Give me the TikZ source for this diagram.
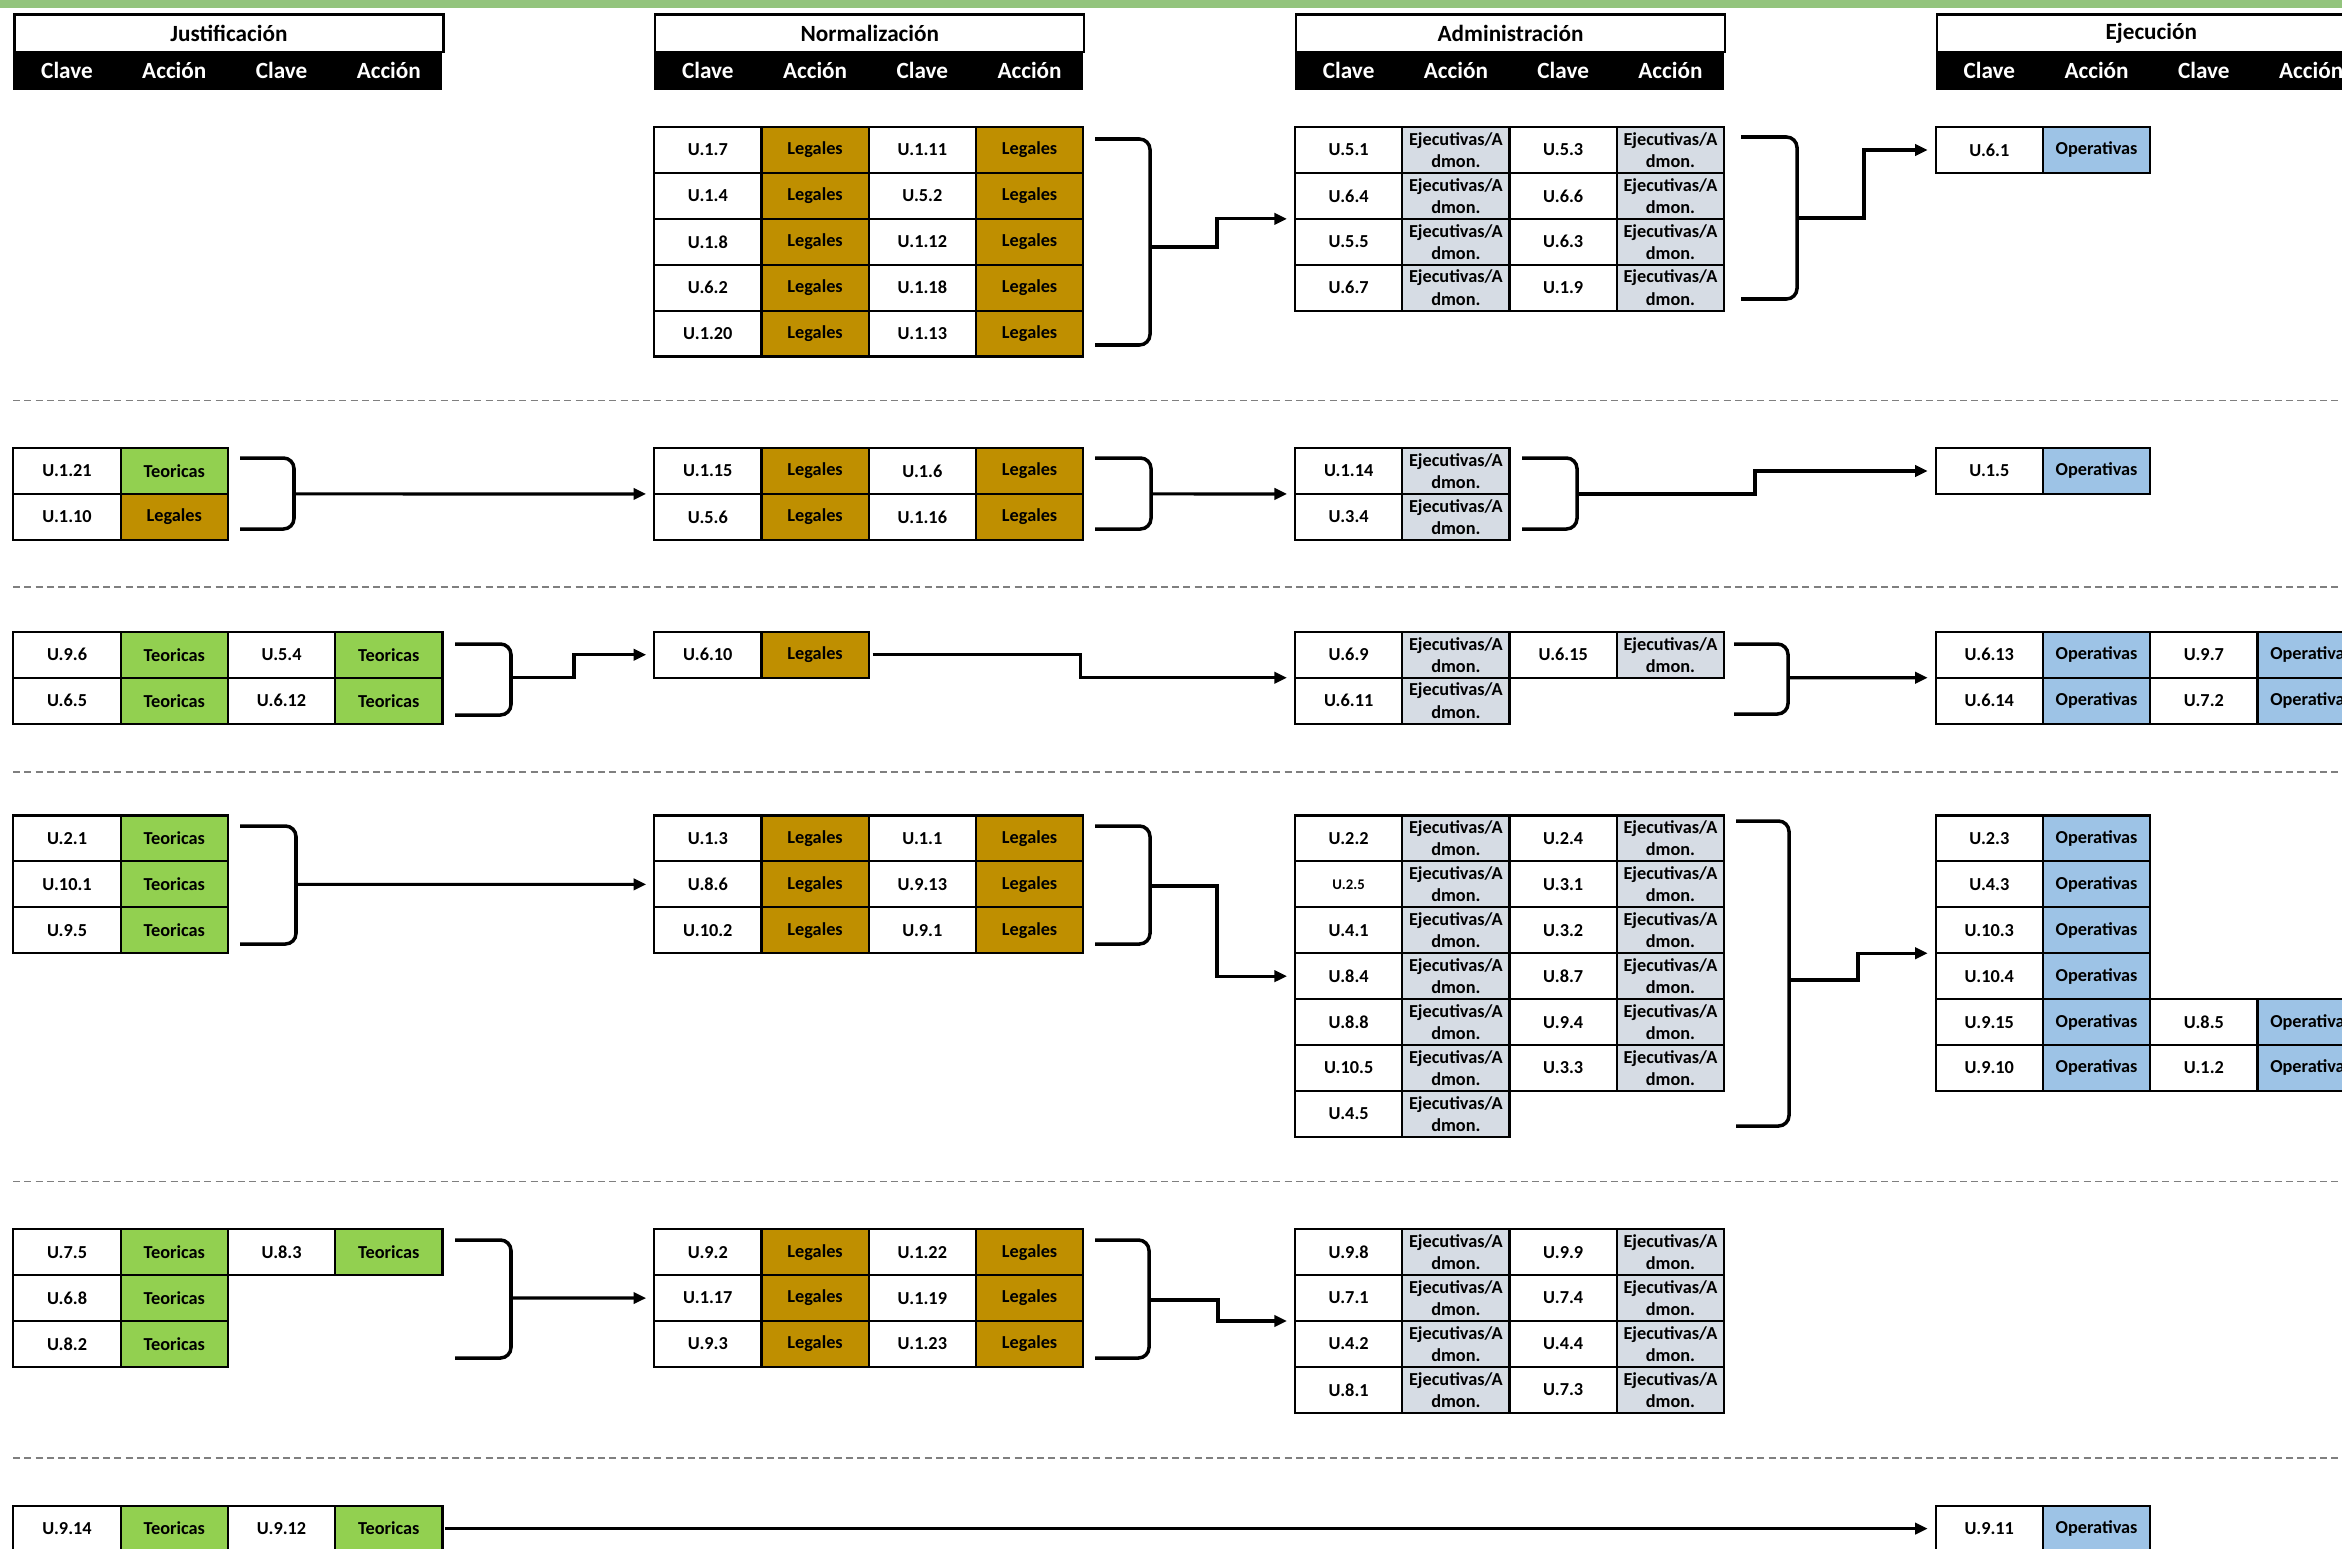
\documentclass[tikz,border=0pt]{standalone}
\usepackage{fontspec}
\setmainfont{Carlito}
\usetikzlibrary{arrows.meta,positioning}

\definecolor{barGreen}{HTML}{93C47D}
\definecolor{teoGreen}{HTML}{92D050}
\definecolor{legGold}{HTML}{BF8F00}
\definecolor{ejcGray}{HTML}{D6DCE4}
\definecolor{opeBlue}{HTML}{9DC3E6}
\definecolor{sepGray}{HTML}{7F7F7F}

\begin{document}
\begin{tikzpicture}[x=0.01cm, y=-0.01cm,
    cell/.style={draw, line width=0.6pt, outer sep=0pt, inner sep=0pt,
      minimum width=1.072cm, minimum height=0.459cm, align=center,
      font=\fontsize{5.2}{6.3}\selectfont\bfseries},
    clave/.style={cell, fill=white},
    teo/.style={cell, fill=teoGreen},
    leg/.style={cell, fill=legGold},
    ejc/.style={cell, fill=ejcGray},
    ope/.style={cell, fill=opeBlue},
    grouptitle/.style={draw, line width=0.6pt, anchor=north west, inner sep=0pt,
      minimum width=4.288cm, minimum height=0.374cm,
      font=\fontsize{6.6}{8}\selectfont\bfseries},
    colhead/.style={fill=black, text=white, inner sep=0pt, outer sep=0pt,
      minimum width=1.072cm, minimum height=0.388cm,
      font=\fontsize{6.6}{8}\selectfont\bfseries},
    brk/.style={line width=1pt, rounded corners=3pt},
    link/.style={line width=0.9pt, shorten >=0.08cm,
      -{Triangle[length=3.6pt, width=3.2pt]}},
    divline/.style={draw=sepGray, line width=0.45pt, dash pattern=on 2pt off 1.2pt}
  ]
  \useasboundingbox (0,0) rectangle (2342,1548);
  \clip (0,0) rectangle (2342,1548);
  \fill[barGreen] (0,0) rectangle (2342,8);

  % cabeceras de las cuatro etapas
  \foreach \gx/\gname/\gid in {13.4/Justificación/j, 654.2/Normalización/n,
      1295/Administración/a, 1935.7/Ejecución/e} {
    \node[grouptitle] (h\gid) at (\gx,13.4) {\gname};
    \node[colhead, anchor=north west] (h\gid-1) at (\gx,50.8) {Clave};
    \node[colhead, right=0pt of h\gid-1] (h\gid-2) {Acción};
    \node[colhead, right=0pt of h\gid-2] (h\gid-3) {Clave};
    \node[colhead, right=0pt of h\gid-3] (h\gid-4) {Acción};
  }

  % separadores
  \foreach \dy in {400.3, 587, 772, 1181.4, 1457.8}
    \draw[divline] (13,\dy) -- (2342,\dy);

  % ---- bloque 1
  \foreach \ka/\kb [count=\r from 0] in {U.1.7/U.1.11, U.1.4/U.5.2,
      U.1.8/U.1.12, U.6.2/U.1.18, U.1.20/U.1.13} {
    \node[clave, anchor=north west] (n1-\r-1) at (654.2,127+45.9*\r) {\ka};
    \node[leg, right=0pt of n1-\r-1] (n1-\r-2) {Legales};
    \node[clave, right=0pt of n1-\r-2] (n1-\r-3) {\kb};
    \node[leg, right=0pt of n1-\r-3] (n1-\r-4) {Legales};
  }
  \foreach \ka/\kb [count=\r from 0] in {U.5.1/U.5.3, U.6.4/U.6.6,
      U.5.5/U.6.3, U.6.7/U.1.9} {
    \node[clave, anchor=north west] (a1-\r-1) at (1295,127+45.9*\r) {\ka};
    \node[ejc, right=0pt of a1-\r-1] (a1-\r-2) {Ejecutivas/A\\dmon.};
    \node[clave, right=0pt of a1-\r-2] (a1-\r-3) {\kb};
    \node[ejc, right=0pt of a1-\r-3] (a1-\r-4) {Ejecutivas/A\\dmon.};
  }
  \node[clave, anchor=north west] (e1-0-1) at (1935.7,127) {U.6.1};
  \node[ope, right=0pt of e1-0-1] (e1-0-2) {Operativas};

  \draw[brk] (1095,139) -- (1150,139) -- (1150,345) -- (1095,345);
  \coordinate (bn1) at (1150,247);
  \draw[link] (bn1) -- ++(67,0) |- (a1-1-1.south west);
  \draw[brk] (1741,137) -- (1797,137) -- (1797,299) -- (1741,299);
  \coordinate (ba1) at (1797,218);
  \draw[link] (ba1) -- ++(67,0) |- (e1-0-1.west);

  % ---- bloque 2
  \node[clave, anchor=north west] (j2-0-1) at (13.4,448) {U.1.21};
  \node[teo, right=0pt of j2-0-1] (j2-0-2) {Teoricas};
  \node[clave, anchor=north west] (j2-1-1) at (13.4,493.9) {U.1.10};
  \node[leg, right=0pt of j2-1-1] (j2-1-2) {Legales};
  \foreach \ka/\kb [count=\r from 0] in {U.1.15/U.1.6, U.5.6/U.1.16} {
    \node[clave, anchor=north west] (n2-\r-1) at (654.2,448+45.9*\r) {\ka};
    \node[leg, right=0pt of n2-\r-1] (n2-\r-2) {Legales};
    \node[clave, right=0pt of n2-\r-2] (n2-\r-3) {\kb};
    \node[leg, right=0pt of n2-\r-3] (n2-\r-4) {Legales};
  }
  \foreach \ka [count=\r from 0] in {U.1.14, U.3.4} {
    \node[clave, anchor=north west] (a2-\r-1) at (1295,448+45.9*\r) {\ka};
    \node[ejc, right=0pt of a2-\r-1] (a2-\r-2) {Ejecutivas/A\\dmon.};
  }
  \node[clave, anchor=north west] (e2-0-1) at (1935.7,448) {U.1.5};
  \node[ope, right=0pt of e2-0-1] (e2-0-2) {Operativas};

  \draw[brk] (240,458) -- (294,458) -- (294,529) -- (240,529);
  \coordinate (bj2) at (294,493.9);
  \draw[link] (bj2) -- (n2-0-1.south west);
  \draw[brk] (1095,458) -- (1151,458) -- (1151,529) -- (1095,529);
  \coordinate (bn2) at (1151,493.9);
  \draw[link] (bn2) -- (a2-0-1.south west);
  \draw[brk] (1522,458) -- (1577,458) -- (1577,529) -- (1522,529);
  \coordinate (ba2) at (1577,494);
  \draw[link] (ba2) -- ++(178,0) |- (e2-0-1.west);

  % ---- bloque 3
  \foreach \ka/\kb [count=\r from 0] in {U.9.6/U.5.4, U.6.5/U.6.12} {
    \node[clave, anchor=north west] (j3-\r-1) at (13.4,631.8+45.9*\r) {\ka};
    \node[teo, right=0pt of j3-\r-1] (j3-\r-2) {Teoricas};
    \node[clave, right=0pt of j3-\r-2] (j3-\r-3) {\kb};
    \node[teo, right=0pt of j3-\r-3] (j3-\r-4) {Teoricas};
  }
  \node[clave, anchor=north west] (n3-0-1) at (654.2,631.8) {U.6.10};
  \node[leg, right=0pt of n3-0-1] (n3-0-2) {Legales};
  \node[clave, anchor=north west] (a3-0-1) at (1295,631.8) {U.6.9};
  \node[ejc, right=0pt of a3-0-1] (a3-0-2) {Ejecutivas/A\\dmon.};
  \node[clave, right=0pt of a3-0-2] (a3-0-3) {U.6.15};
  \node[ejc, right=0pt of a3-0-3] (a3-0-4) {Ejecutivas/A\\dmon.};
  \node[clave, anchor=north west] (a3-1-1) at (1295,677.7) {U.6.11};
  \node[ejc, right=0pt of a3-1-1] (a3-1-2) {Ejecutivas/A\\dmon.};
  \foreach \ka/\kb [count=\r from 0] in {U.6.13/U.9.7, U.6.14/U.7.2} {
    \node[clave, anchor=north west] (e3-\r-1) at (1935.7,631.8+45.9*\r) {\ka};
    \node[ope, right=0pt of e3-\r-1] (e3-\r-2) {Operativas};
    \node[clave, right=0pt of e3-\r-2] (e3-\r-3) {\kb};
    \node[ope, right=0pt of e3-\r-3] (e3-\r-4) {Operativas};
  }

  \draw[brk] (455,644) -- (511,644) -- (511,715) -- (455,715);
  \coordinate (bj3) at (511,677.7);
  \draw[link] (bj3) -- ++(63,0) |- (n3-0-1.west);
  \draw[link] (n3-0-2.east) ++(4,0) -- ++(208,0) |- (a3-0-1.south west);
  \draw[brk] (1734,644) -- (1788,644) -- (1788,714) -- (1734,714);
  \coordinate (ba3) at (1788,677.7);
  \draw[link] (ba3) -- (e3-0-1.south west);

  % ---- bloque 4
  \foreach \ka [count=\r from 0] in {U.2.1, U.10.1, U.9.5} {
    \node[clave, anchor=north west] (j4-\r-1) at (13.4,815.5+45.9*\r) {\ka};
    \node[teo, right=0pt of j4-\r-1] (j4-\r-2) {Teoricas};
  }
  \foreach \ka/\kb [count=\r from 0] in {U.1.3/U.1.1, U.8.6/U.9.13, U.10.2/U.9.1} {
    \node[clave, anchor=north west] (n4-\r-1) at (654.2,815.5+45.9*\r) {\ka};
    \node[leg, right=0pt of n4-\r-1] (n4-\r-2) {Legales};
    \node[clave, right=0pt of n4-\r-2] (n4-\r-3) {\kb};
    \node[leg, right=0pt of n4-\r-3] (n4-\r-4) {Legales};
  }
  \foreach \ka/\kb [count=\r from 0] in {U.2.2/U.2.4,
      {{\fontsize{4.2}{5}\selectfont U.2.5}}/U.3.1, U.4.1/U.3.2,
      U.8.4/U.8.7, U.8.8/U.9.4, U.10.5/U.3.3} {
    \node[clave, anchor=north west] (a4-\r-1) at (1295,815.5+45.9*\r) {\ka};
    \node[ejc, right=0pt of a4-\r-1] (a4-\r-2) {Ejecutivas/A\\dmon.};
    \node[clave, right=0pt of a4-\r-2] (a4-\r-3) {\kb};
    \node[ejc, right=0pt of a4-\r-3] (a4-\r-4) {Ejecutivas/A\\dmon.};
  }
  \node[clave, anchor=north west] (a4-6-1) at (1295,1090.9) {U.4.5};
  \node[ejc, right=0pt of a4-6-1] (a4-6-2) {Ejecutivas/A\\dmon.};
  \foreach \ka [count=\r from 0] in {U.2.3, U.4.3, U.10.3, U.10.4} {
    \node[clave, anchor=north west] (e4-\r-1) at (1935.7,815.5+45.9*\r) {\ka};
    \node[ope, right=0pt of e4-\r-1] (e4-\r-2) {Operativas};
  }
  \foreach \ka/\kb [count=\r from 4] in {U.9.15/U.8.5, U.9.10/U.1.2} {
    \node[clave, anchor=north west] (e4-\r-1) at (1935.7,815.5+45.9*\r) {\ka};
    \node[ope, right=0pt of e4-\r-1] (e4-\r-2) {Operativas};
    \node[clave, right=0pt of e4-\r-2] (e4-\r-3) {\kb};
    \node[ope, right=0pt of e4-\r-3] (e4-\r-4) {Operativas};
  }

  \draw[brk] (240,826) -- (296,826) -- (296,944) -- (240,944);
  \coordinate (bj4) at (296,884.4);
  \draw[link] (bj4) -- (n4-1-1.west);
  \draw[brk] (1095,826) -- (1150,826) -- (1150,944) -- (1095,944);
  \coordinate (bn4) at (1150,886);
  \draw[link] (bn4) -- ++(67,0) |- (a4-3-1.west);
  \draw[brk] (1736,821) -- (1789,821) -- (1789,1126) -- (1736,1126);
  \coordinate (ba4) at (1789,980);
  \draw[link] (ba4) -- ++(69,0) |- (e4-2-1.south west);

  % ---- bloque 5
  \node[clave, anchor=north west] (j5-0-1) at (13.4,1229.2) {U.7.5};
  \node[teo, right=0pt of j5-0-1] (j5-0-2) {Teoricas};
  \node[clave, right=0pt of j5-0-2] (j5-0-3) {U.8.3};
  \node[teo, right=0pt of j5-0-3] (j5-0-4) {Teoricas};
  \foreach \ka [count=\r from 1] in {U.6.8, U.8.2} {
    \node[clave, anchor=north west] (j5-\r-1) at (13.4,1229.2+45.9*\r) {\ka};
    \node[teo, right=0pt of j5-\r-1] (j5-\r-2) {Teoricas};
  }
  \foreach \ka/\kb [count=\r from 0] in {U.9.2/U.1.22, U.1.17/U.1.19, U.9.3/U.1.23} {
    \node[clave, anchor=north west] (n5-\r-1) at (654.2,1229.2+45.9*\r) {\ka};
    \node[leg, right=0pt of n5-\r-1] (n5-\r-2) {Legales};
    \node[clave, right=0pt of n5-\r-2] (n5-\r-3) {\kb};
    \node[leg, right=0pt of n5-\r-3] (n5-\r-4) {Legales};
  }
  \foreach \ka/\kb [count=\r from 0] in {U.9.8/U.9.9, U.7.1/U.7.4,
      U.4.2/U.4.4, U.8.1/U.7.3} {
    \node[clave, anchor=north west] (a5-\r-1) at (1295,1229.2+45.9*\r) {\ka};
    \node[ejc, right=0pt of a5-\r-1] (a5-\r-2) {Ejecutivas/A\\dmon.};
    \node[clave, right=0pt of a5-\r-2] (a5-\r-3) {\kb};
    \node[ejc, right=0pt of a5-\r-3] (a5-\r-4) {Ejecutivas/A\\dmon.};
  }

  \draw[brk] (455,1240) -- (511,1240) -- (511,1358) -- (455,1358);
  \coordinate (bj5) at (511,1298);
  \draw[link] (bj5) -- (n5-1-1.west);
  \draw[brk] (1095,1240) -- (1149,1240) -- (1149,1358) -- (1095,1358);
  \coordinate (bn5) at (1149,1300);
  \draw[link] (bn5) -- ++(69,0) |- (a5-1-1.south west);

  % ---- bloque 6
  \node[clave, anchor=north west] (j6-0-1) at (13.4,1505.6) {U.9.14};
  \node[teo, right=0pt of j6-0-1] (j6-0-2) {Teoricas};
  \node[clave, right=0pt of j6-0-2] (j6-0-3) {U.9.12};
  \node[teo, right=0pt of j6-0-3] (j6-0-4) {Teoricas};
  \node[clave, anchor=north west] (e6-0-1) at (1935.7,1505.6) {U.9.11};
  \node[ope, right=0pt of e6-0-1] (e6-0-2) {Operativas};
  \draw[link] (j6-0-4.east) ++(3,0) -- (e6-0-1.west);
\end{tikzpicture}
\end{document}
